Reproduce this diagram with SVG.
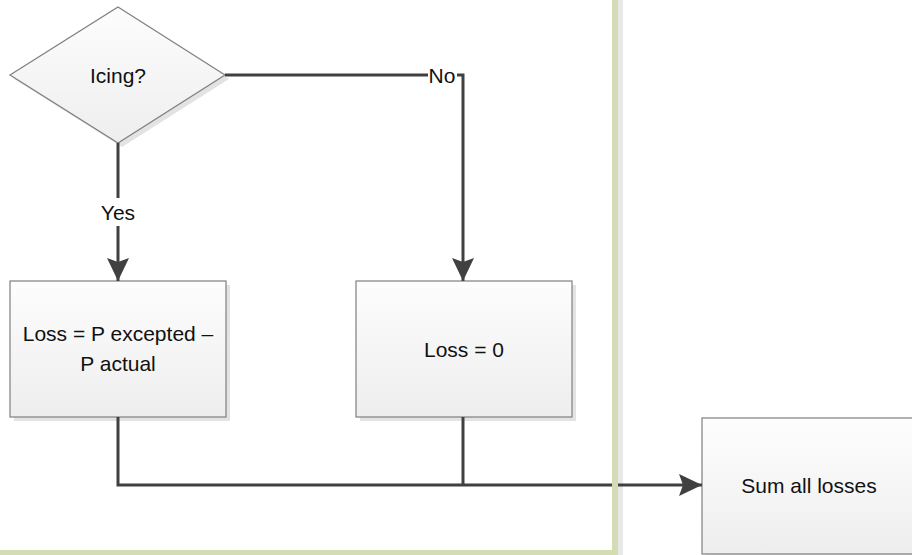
<svg xmlns="http://www.w3.org/2000/svg" width="912" height="555" viewBox="0 0 912 555">
  <defs>
    <linearGradient id="fillGrad" x1="0" y1="0" x2="0" y2="1">
      <stop offset="0" stop-color="#fdfdfd"/>
      <stop offset="1" stop-color="#eeeeee"/>
    </linearGradient>
    <marker id="arrow" markerUnits="userSpaceOnUse" markerWidth="24" markerHeight="22" refX="23" refY="11" orient="auto" viewBox="0 0 24 22">
      <path d="M0,0 L23,11 L0,22 L4,11 Z" fill="#404040"/>
    </marker>
    <style>
      .shape { fill: url(#fillGrad); stroke: #7f7f7f; stroke-width: 1.2; }
      .shadow { fill: #e3e3e3; stroke: none; }
      .conn { fill: none; stroke: #404040; stroke-width: 3; }
      .label { font-family: "Liberation Sans", Arial, sans-serif; font-size: 21px; fill: #111111; text-anchor: middle; }
    </style>
  </defs>
  <rect x="0" y="0" width="912" height="555" fill="#ffffff"/>

  <!-- page shadow stripe -->
  <rect x="618" y="0" width="5" height="555" fill="#e8e8e8"/>

  <g id="node-icing">
    <polygon class="shadow" points="122,11 229,79 122,147 14,79"/>
    <polygon class="shape" points="118,7 225,75 118,143 10,75"/>
    <text class="label" x="118" y="83">Icing?</text>
  </g>

  <g id="node-loss-calc">
    <rect class="shadow" x="14" y="285" width="216" height="136"/>
    <rect class="shape" x="10" y="281" width="216" height="136"/>
    <text class="label" x="118" y="341">Loss = P excepted –</text>
    <text class="label" x="118" y="371">P actual</text>
  </g>

  <g id="node-loss-zero">
    <rect class="shadow" x="360" y="285" width="216" height="136"/>
    <rect class="shape" x="356" y="281" width="216" height="136"/>
    <text class="label" x="464" y="357">Loss = 0</text>
  </g>

  <g id="node-sum">
    <rect class="shadow" x="706" y="422" width="216" height="136"/>
    <rect class="shape" x="702" y="418" width="216" height="136"/>
    <text class="label" x="809" y="493">Sum all losses</text>
  </g>

  <g id="connectors">
    <path class="conn" d="M118,143 V281" marker-end="url(#arrow)"/>
    <path class="conn" d="M225,75 H463 V281" marker-end="url(#arrow)"/>
    <path class="conn" d="M118,417 V485 H702" marker-end="url(#arrow)"/>
    <path class="conn" d="M463,417 V485"/>
    <rect x="100" y="198" width="36" height="28" fill="#ffffff"/>
    <text class="label" x="118" y="220">Yes</text>
    <rect x="428" y="64" width="29" height="22" fill="#ffffff"/>
    <text class="label" x="442" y="83">No</text>
  </g>

  <!-- page border -->
  <rect x="612" y="0" width="6" height="555" fill="#d4dcb4"/>
  <rect x="0" y="550" width="618" height="5" fill="#d4dcb4"/>
</svg>
